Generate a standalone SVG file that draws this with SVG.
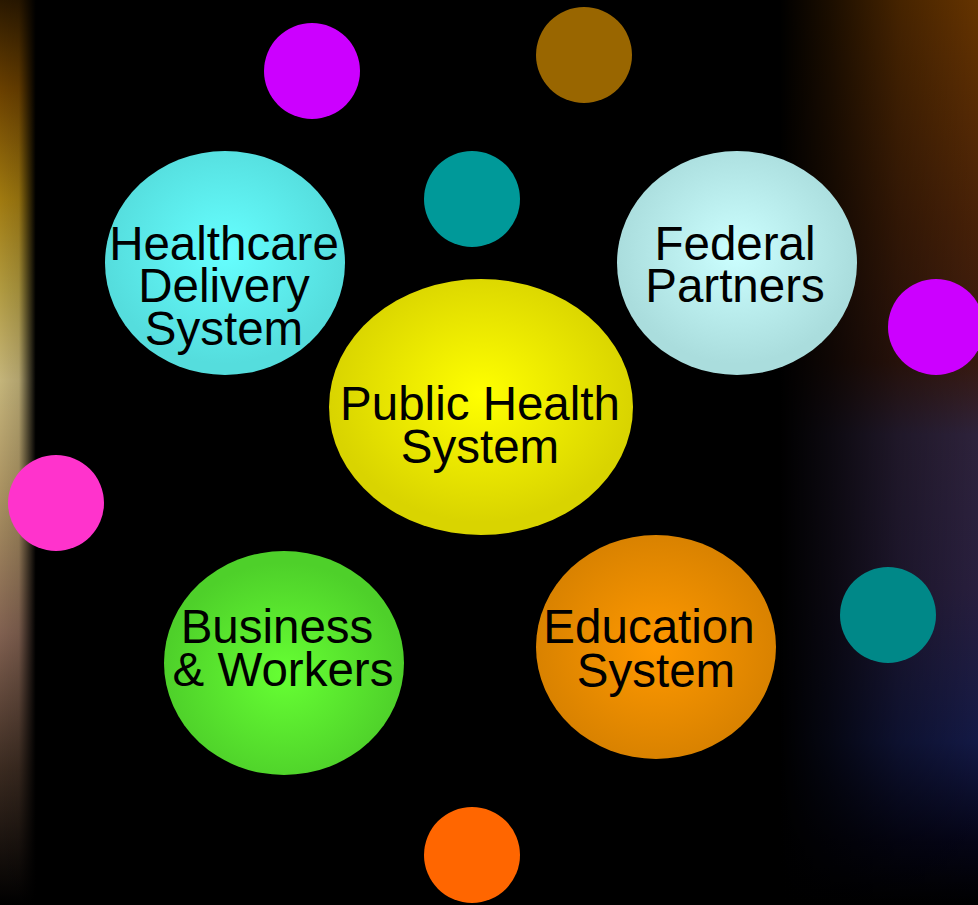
<svg xmlns="http://www.w3.org/2000/svg" width="978" height="905" viewBox="0 0 978 905">
<defs>
<style>
.lbl{font-family:"Liberation Sans",Arial,sans-serif;font-size:47.5px;fill:#000;text-anchor:middle}
</style>
<linearGradient id="leftV" x1="0" y1="0" x2="0" y2="1">
<stop offset="0" stop-color="#2a1800"/>
<stop offset="0.1" stop-color="#6a4000"/>
<stop offset="0.22" stop-color="#a07a10"/>
<stop offset="0.32" stop-color="#b09a40"/>
<stop offset="0.42" stop-color="#c4b47a"/>
<stop offset="0.55" stop-color="#a89060"/>
<stop offset="0.7" stop-color="#806050"/>
<stop offset="0.85" stop-color="#3a2a20"/>
<stop offset="1" stop-color="#000"/>
</linearGradient>
<linearGradient id="leftH" x1="0" y1="0" x2="1" y2="0">
<stop offset="0" stop-color="#000" stop-opacity="0"/>
<stop offset="0.45" stop-color="#000" stop-opacity="0.1"/>
<stop offset="0.85" stop-color="#000" stop-opacity="1"/>
<stop offset="1" stop-color="#000" stop-opacity="1"/>
</linearGradient>
<linearGradient id="rightV" x1="0" y1="0" x2="0" y2="1">
<stop offset="0" stop-color="#6a3600"/>
<stop offset="0.25" stop-color="#4a2208"/>
<stop offset="0.4" stop-color="#3a1a10"/>
<stop offset="0.48" stop-color="#30243e"/>
<stop offset="0.65" stop-color="#2a2040"/>
<stop offset="0.82" stop-color="#141a48"/>
<stop offset="0.93" stop-color="#050518"/>
<stop offset="1" stop-color="#000"/>
</linearGradient>
<linearGradient id="rightH" x1="0" y1="0" x2="1" y2="0">
<stop offset="0" stop-color="#000" stop-opacity="1"/>
<stop offset="0.25" stop-color="#000" stop-opacity="0.75"/>
<stop offset="0.6" stop-color="#000" stop-opacity="0.35"/>
<stop offset="1" stop-color="#000" stop-opacity="0.05"/>
</linearGradient>
<radialGradient id="gYellow" cx="0.5" cy="0.45" r="0.5">
<stop offset="0" stop-color="#ffff00"/>
<stop offset="1" stop-color="#d9d400"/>
</radialGradient>
<radialGradient id="gCyan" cx="0.5" cy="0.45" r="0.5">
<stop offset="0" stop-color="#66ffff"/>
<stop offset="1" stop-color="#55dddd"/>
</radialGradient>
<radialGradient id="gLight" cx="0.5" cy="0.45" r="0.5">
<stop offset="0" stop-color="#ccffff"/>
<stop offset="1" stop-color="#aadddd"/>
</radialGradient>
<radialGradient id="gGreen" cx="0.5" cy="0.55" r="0.5">
<stop offset="0" stop-color="#66ff33"/>
<stop offset="1" stop-color="#4ed02a"/>
</radialGradient>
<radialGradient id="gOrange" cx="0.5" cy="0.5" r="0.5">
<stop offset="0" stop-color="#ff9900"/>
<stop offset="1" stop-color="#d98200"/>
</radialGradient>
</defs>

<g id="background">
<rect x="0" y="0" width="978" height="905" fill="#000"/>
<rect x="0" y="0" width="42" height="905" fill="url(#leftV)"/>
<rect x="0" y="0" width="42" height="905" fill="url(#leftH)"/>
<rect x="780" y="0" width="198" height="905" fill="url(#rightV)"/>
<rect x="780" y="0" width="198" height="905" fill="url(#rightH)"/>
</g>

<g id="dot-magenta-top"><circle cx="312" cy="71" r="48" fill="#cc00ff"/></g>
<g id="dot-brown"><circle cx="584" cy="55" r="48" fill="#996600"/></g>
<g id="dot-teal-top"><circle cx="472" cy="199" r="48" fill="#009999"/></g>
<g id="dot-magenta-right"><circle cx="936" cy="327" r="48" fill="#cc00ff"/></g>
<g id="dot-pink"><circle cx="56" cy="503" r="48" fill="#ff33cc"/></g>
<g id="dot-teal-right"><circle cx="888" cy="615" r="48" fill="#008888"/></g>
<g id="dot-orange"><circle cx="472" cy="855" r="48" fill="#ff6600"/></g>

<g id="healthcare">
<ellipse cx="225" cy="263" rx="120" ry="112" fill="url(#gCyan)"/>
<text class="lbl" x="224" y="260">Healthcare</text>
<text class="lbl" x="224" y="302">Delivery</text>
<text class="lbl" x="224" y="345">System</text>
</g>

<g id="federal">
<ellipse cx="737" cy="263" rx="120" ry="112" fill="url(#gLight)"/>
<text class="lbl" x="735" y="260">Federal</text>
<text class="lbl" x="735" y="302">Partners</text>
</g>

<g id="public-health">
<ellipse cx="481" cy="407" rx="152" ry="128" fill="url(#gYellow)"/>
<text class="lbl" x="480" y="420">Public Health</text>
<text class="lbl" x="480" y="463">System</text>
</g>

<g id="business">
<ellipse cx="284" cy="663" rx="120" ry="112" fill="url(#gGreen)"/>
<text class="lbl" x="277" y="643">Business</text>
<text class="lbl" x="283" y="686">&amp; Workers</text>
</g>

<g id="education">
<ellipse cx="656" cy="647" rx="120" ry="112" fill="url(#gOrange)"/>
<text class="lbl" x="649" y="643">Education</text>
<text class="lbl" x="656" y="687">System</text>
</g>
</svg>
